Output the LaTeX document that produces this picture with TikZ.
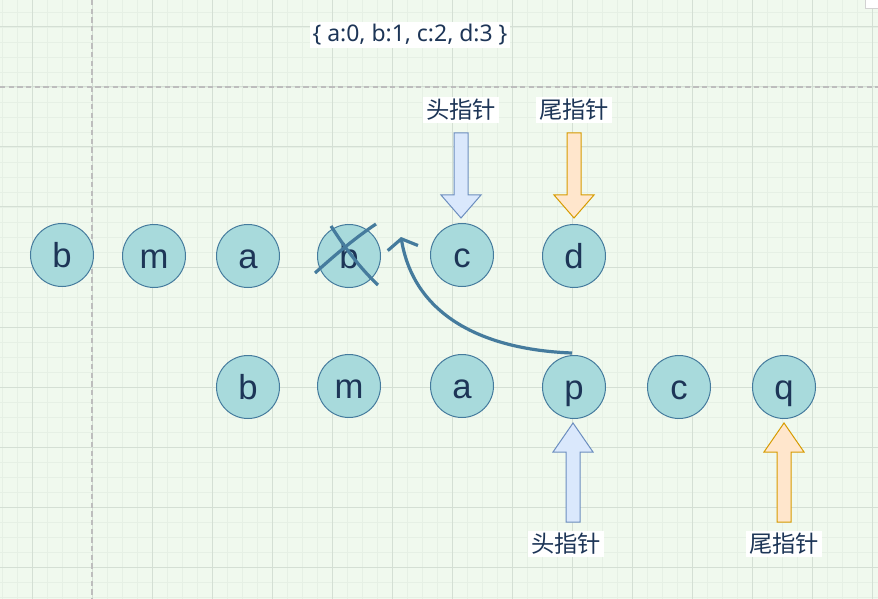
\documentclass[tikz,border=0pt]{standalone}
\usepackage{fontspec}
\setmainfont{Liberation Sans}
\newfontfamily\cjk{Noto Sans CJK SC}
\newfontfamily\lbl{Noto Sans}
\usetikzlibrary{arrows.meta}
\definecolor{bgc}{HTML}{F0F9EE}
\definecolor{gminor}{HTML}{E6F0E5}
\definecolor{gmajor}{HTML}{D4DFD4}
\definecolor{dashc}{HTML}{BDBDBD}
\definecolor{ballfill}{HTML}{A8DADC}
\definecolor{ballline}{HTML}{457B9D}
\definecolor{balltext}{HTML}{1D3557}
\definecolor{hfill}{HTML}{DAE8FC}
\definecolor{hline}{HTML}{6C8EBF}
\definecolor{tfill}{HTML}{FFE6CC}
\definecolor{tline}{HTML}{D79B00}
\newcommand\blkarrow[5]{% style, x, ytail, ybase, ytip
  \draw[#1] (#2-7,#3) -- (#2+7,#3) -- (#2+7,#4) -- (#2+20,#4) -- (#2,#5)
    -- (#2-20,#4) -- (#2-7,#4) -- cycle;}
\begin{document}
\begin{tikzpicture}[x=0.75pt,y=-0.75pt,
  minorgrid/.style={gminor,line width=0.5pt},
  majorgrid/.style={gmajor,line width=0.75pt},
  guide/.style={dashc,line width=0.9pt,dash pattern=on 4pt off 2.5pt},
  ball/.style={circle,draw=ballline,fill=ballfill,line width=0.75pt,
    minimum size=47.25pt,inner sep=0pt,text=balltext,
    font=\fontsize{26}{26}\selectfont,text height=19pt,text depth=0pt},
  ptrlabel/.style={fill=white,inner xsep=2pt,inner ysep=2pt,text=balltext,
    font=\cjk\fontsize{17.5}{17.5}\selectfont},
  headarrow/.style={draw=hline,fill=hfill,line width=0.75pt,line join=miter},
  tailarrow/.style={draw=tline,fill=tfill,line width=0.75pt,line join=miter},
  crossline/.style={ballline,line width=2.4pt},
  moveline/.style={ballline,line width=2.4pt,
    -{Straight Barb[length=7pt,width=23pt,line width=2.4pt]}}]
\fill[bgc] (0,0) rectangle (878,599);
\useasboundingbox (0,0) rectangle (878,599);
% grid
\foreach \x in {2,17,...,872} \draw[minorgrid] (\x,0) -- (\x,599);
\foreach \y in {12,27,...,597} \draw[minorgrid] (0,\y) -- (878,\y);
\foreach \x in {32,92,...,872} \draw[majorgrid] (\x,0) -- (\x,599);
\foreach \y in {27,87,...,587} \draw[majorgrid] (0,\y) -- (878,\y);
\draw[guide] (92,0) -- (92,599);
\draw[guide] (0,87) -- (878,87);
% corner panel
\draw[gray!35,fill=white] (865,-3) rectangle (881,8);
% map text
\node[fill=white,inner xsep=2pt,inner ysep=1.5pt,text=balltext,
  font=\lbl\fontsize{17.2}{17.2}\selectfont] (map) at (410,35) {\{ a:0, b:1, c:2, d:3 \}};
% top row
\node[ball] (t1) at (62,255) {b};
\node[ball] (t2) at (154,256) {m};
\node[ball] (t3) at (248,256) {a};
\node[ball] (t4) at (349,256) {b};
\node[ball] (t5) at (462,255) {c};
\node[ball] (t6) at (574,256) {d};
% bottom row
\node[ball] (b1) at (248,387) {b};
\node[ball] (b2) at (349,386) {m};
\node[ball] (b3) at (462,386) {a};
\node[ball] (b4) at (574,387) {p};
\node[ball] (b5) at (679,387) {c};
\node[ball] (b6) at (784,387) {q};
% cross on removed b
\coordinate (x1a) at (315,273);
\coordinate (x1b) at (376,224);
\coordinate (x2a) at (331,226);
\coordinate (x2b) at (378,285);
\draw[crossline] (x1a) .. controls (335,255) and (355,238) .. (x1b);
\draw[crossline] (x2a) .. controls (345,248) and (360,268) .. (x2b);
% move arrow
\coordinate (mvs) at (572,353);
\coordinate (mve) at (401,237);
\draw[moveline] (mvs) .. controls (490,350) and (415,320) .. (mve);
% pointer arrows top
\node[ptrlabel] (th) at (461,110) {头指针};
\node[ptrlabel] (tt) at (574,110) {尾指针};
\blkarrow{headarrow}{461}{133}{195}{218}
\blkarrow{tailarrow}{574}{133}{195}{218}
% pointer arrows bottom
\blkarrow{headarrow}{573}{522}{452}{423}
\blkarrow{tailarrow}{784}{522}{452}{423}
\node[ptrlabel] (bh) at (566,544) {头指针};
\node[ptrlabel] (bt) at (784,544) {尾指针};
\end{tikzpicture}
\end{document}
